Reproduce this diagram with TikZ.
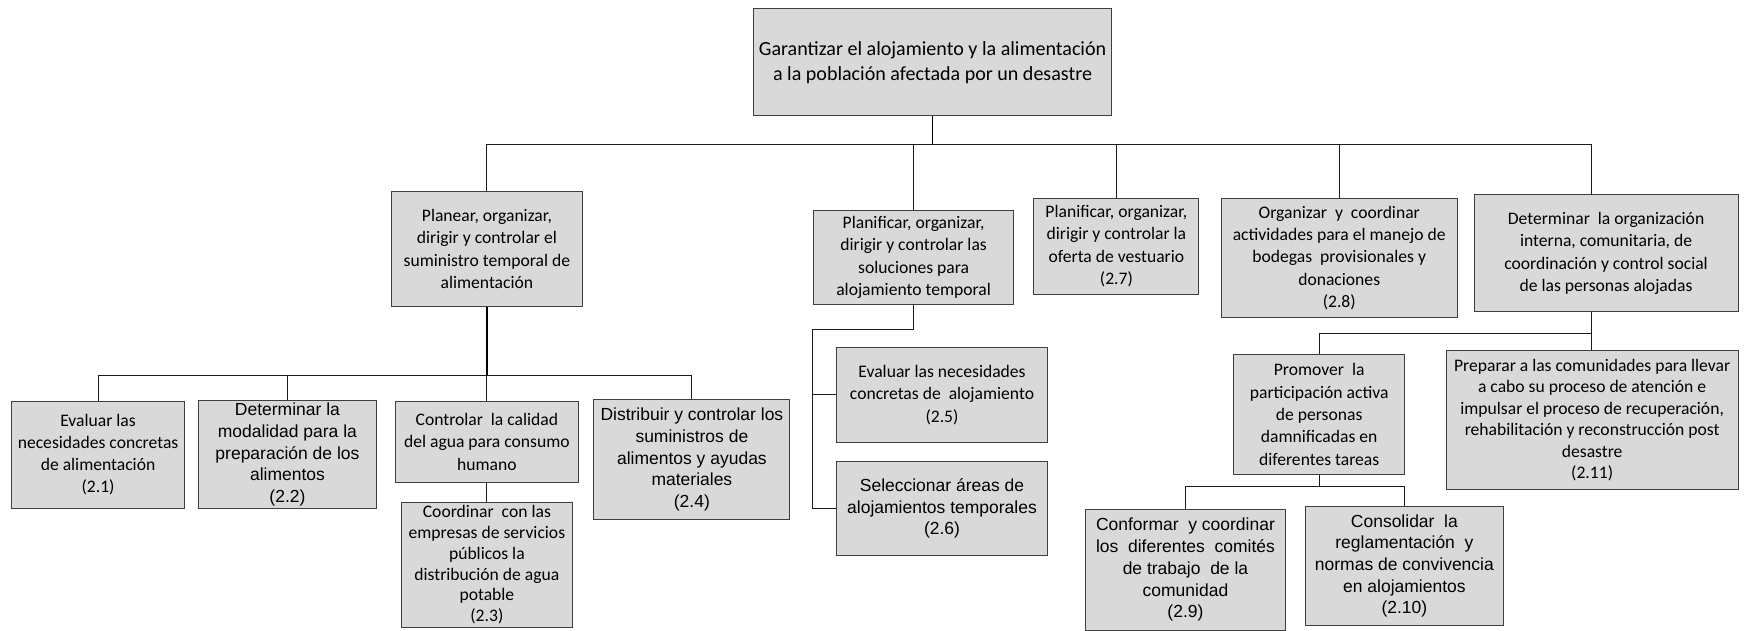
\documentclass[tikz,border=0pt]{standalone}
\usepackage{fontspec}
\newfontfamily\calfont{Carlito}
\newfontfamily\arfont{Liberation Sans}
\setmainfont{Carlito}
\definecolor{boxfill}{HTML}{D9D9D9}
\definecolor{boxline}{HTML}{3F3F3F}
\definecolor{wire}{HTML}{1A1A1A}
\tikzset{
  box/.style={draw=boxline, fill=boxfill, line width=0.9pt, inner sep=2pt,
    align=center, text=black},
  cal/.style={font=\calfont\fontsize{15.8}{20}\selectfont},
  calbig/.style={font=\calfont\fontsize{18}{22}\selectfont},
  ari/.style={font=\arfont\fontsize{15.7}{19.5}\selectfont},
  wires/.style={draw=wire, line width=0.9pt},
  stem/.style={draw=black, line width=1.6pt},
}
\begin{document}
\begin{tikzpicture}[x=1pt, y=-1pt]
\useasboundingbox (0,0) rectangle (1568,566);

% top level
\node[box, calbig, minimum width=322pt, minimum height=96pt] (root) at (837,56)
  {Garantizar el alojamiento y la alimentación\\a la población afectada por un desastre};

% second level
\node[box, cal, minimum width=171pt, minimum height=103pt] (plan) at (437,223.5)
  {Planear, organizar,\\dirigir y controlar el\\suministro temporal de\\alimentación};
\node[box, cal, minimum width=180pt, minimum height=84pt] (aloj) at (820,231)
  {Planificar, organizar,\\dirigir y controlar las\\soluciones para\\alojamiento temporal};
\node[box, cal, minimum width=148pt, minimum height=86pt] (v27) at (1002,221)
  {Planificar, organizar,\\dirigir y controlar la\\oferta de vestuario\\(2.7)};
\node[box, cal, minimum width=212pt, minimum height=107pt] (o28) at (1202,231.5)
  {Organizar\ \ y\ \ coordinar\\actividades para el manejo de\\bodegas\ \ provisionales y\\donaciones\\(2.8)};
\node[box, cal, minimum width=237pt, minimum height=105pt] (det) at (1441.5,227.5)
  {Determinar\ \ la organización\\interna, comunitaria, de\\coordinación y control social\\de las personas alojadas};

% food supply branch
\node[box, cal, minimum width=156pt, minimum height=96pt] (a21) at (88,408)
  {Evaluar las\\necesidades concretas\\de alimentación\\(2.1)};
\node[box, ari, minimum width=160pt, minimum height=96pt] (a22) at (258,408)
  {Determinar la\\modalidad para la\\preparación de los\\alimentos\\(2.2)};
\node[box, cal, minimum width=164pt, minimum height=73pt] (agua) at (437,396.5)
  {Controlar\ \ la calidad\\del agua para consumo\\humano};
\node[box, cal, minimum width=153pt, minimum height=112pt, font=\calfont\fontsize{15.8}{18.6}\selectfont] (a23) at (437,507)
  {Coordinar\ \ con las\\empresas de servicios\\públicos la\\distribución de agua\\potable\\(2.3)};
\node[box, ari, minimum width=176pt, minimum height=107pt] (a24) at (621,412.5)
  {Distribuir y controlar los\\suministros de\\alimentos y ayudas\\materiales\\(2.4)};

% temporary housing branch
\node[box, cal, minimum width=189pt, minimum height=85pt] (a25) at (845.5,354.5)
  {Evaluar las necesidades\\concretas de\ \ alojamiento\\(2.5)};
\node[box, ari, minimum width=189pt, minimum height=85pt] (a26) at (845.5,456.5)
  {Seleccionar áreas de\\alojamientos temporales\\(2.6)};

% internal organisation branch
\node[box, cal, minimum width=154pt, minimum height=108pt] (prom) at (1184,372)
  {Promover\ \ la\\participación activa\\de personas\\damnificadas en\\diferentes tareas};
\node[box, cal, minimum width=262pt, minimum height=124pt, font=\calfont\fontsize{15.8}{19.2}\selectfont] (a211) at (1429,377)
  {Preparar a las comunidades para llevar\\a cabo su proceso de atención e\\impulsar el proceso de recuperación,\\rehabilitación y reconstrucción post\\desastre\\(2.11)};
\node[box, ari, minimum width=180pt, minimum height=109pt] (a29) at (1064,511.5)
  {Conformar\ \ y coordinar\\los\ \ diferentes\ \ comités\\de trabajo\ \ de la\\comunidad\\(2.9)};
\node[box, ari, minimum width=177pt, minimum height=106pt] (a210) at (1260.5,508)
  {Consolidar\ \ la\\reglamentación\ \ y\\normas de convivencia\\en alojamientos\\(2.10)};

% junction points
\coordinate (busA) at (837,130);
\coordinate (detIn) at (1428,175);
\coordinate (busB) at (437,337);
\coordinate (busC) at (729,296);
\coordinate (busD) at (1428,299);
\coordinate (busE) at (1184,437);

% connectors from the top box
\draw[stem] (root.south) -- (busA);
\draw[wires] (plan.north) |- (busA);
\draw[wires] (busA) -| (detIn);
\draw[wires] (aloj.north) -- (aloj.north |- busA);
\draw[wires] (v27.north) -- (v27.north |- busA);
\draw[wires] (o28.north) -- (o28.north |- busA);

% food supply connectors
\draw[wires] (a21.north) |- (busB) -| (a24.north);
\draw[wires] (a22.north) -- (a22.north |- busB);
\draw[wires] (busB) -- (agua.north);
\draw[stem] (plan.south) -- (busB);
\draw[wires] (agua.south) -- (a23.north);

% housing connectors
\draw[wires] (aloj.south) |- (busC) |- (a26.west);
\draw[wires] (a25.west) -- (a25.west -| busC);

% internal organisation connectors
\draw[wires] (det.south -| busD) -- (busD) -- (a211.north -| busD);
\draw[wires] (prom.north) |- (busD);
\draw[wires] (prom.south) -- (busE);
\draw[wires] (a29.north) |- (busE) -| (a210.north);
\end{tikzpicture}
\end{document}
